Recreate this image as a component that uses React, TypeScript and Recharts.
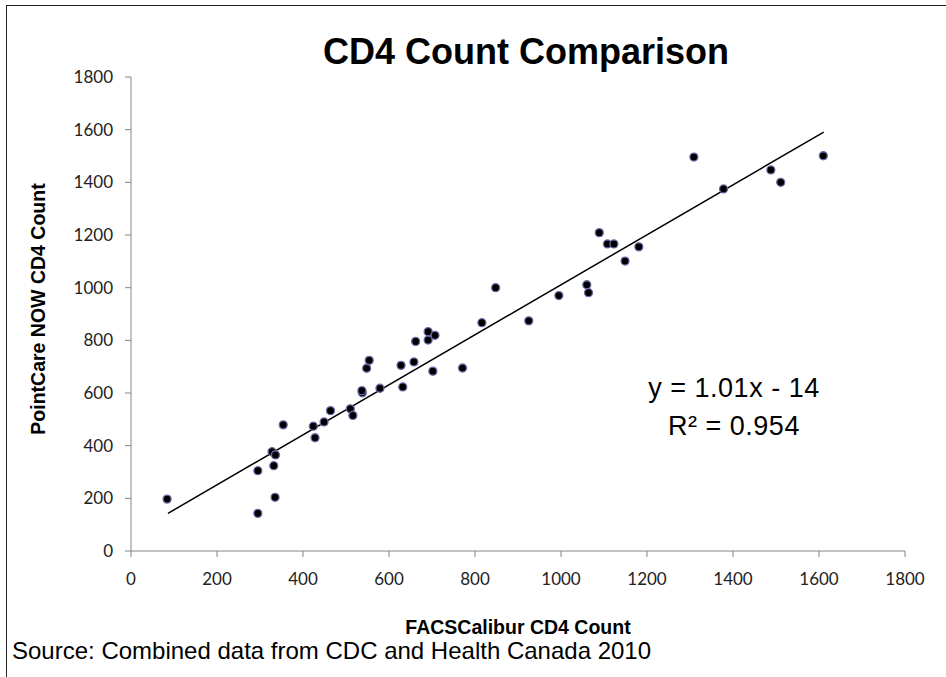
import React from 'react';
import { ScatterChart, Scatter, XAxis, YAxis, ReferenceLine } from 'recharts';

// FACSCalibur CD4 count (x) and PointCare NOW CD4 count (y)
const facsCalibur = [
  84, 295, 295, 328, 336, 332, 335, 354, 424, 428, 449, 464, 510, 516, 538, 537,
  548, 554, 579, 628, 632, 658, 662, 691, 691, 707, 702, 771, 816, 848, 925, 995,
  1060, 1064, 1149, 1089, 1108, 1123, 1181, 1309, 1378, 1488, 1511, 1610,
];
const pointCare = [
  197, 305, 143, 377, 365, 324, 204, 479, 474, 430, 490, 533, 540, 515, 601, 609,
  694, 724, 618, 705, 623, 718, 796, 833, 801, 819, 683, 695, 867, 1000, 874, 970,
  1011, 981, 1101, 1209, 1166, 1166, 1155, 1496, 1375, 1447, 1400, 1501,
];
const axisTicks = [0, 200, 400, 600, 800, 1000, 1200, 1400, 1600, 1800];
const trendX = [86, 1611];
const trendY = [143, 1591];

const titleText = 'CD4 Count Comparison';
const xTitle = 'FACSCalibur CD4 Count';
const yTitle = 'PointCare NOW CD4 Count';
const sourceText = 'Source: Combined data from CDC and Health Canada 2010';
const eqLine1 = 'y = 1.01x - 14';
const eqLine2 = 'R² = 0.954';

const points = facsCalibur.map((x, i) => ({ x, y: pointCare[i] }));

const Dot = (props: any) => {
  const { cx, cy } = props;
  if (cx == null || cy == null) return <g />;
  return <circle cx={cx} cy={cy} r={4} fill="#000" stroke="#6a6aa8" strokeWidth={1.3} />;
};

const tickStyle = { fill: '#222', fontSize: 17, fontFamily: 'Lato, "Open Sans", sans-serif' };
const arial = '"Liberation Sans", Arial, sans-serif';

export default function App() {
  return (
    <div
      style={{
        position: 'absolute',
        left: 0,
        top: 0,
        width: 946,
        height: 677,
        overflow: 'hidden',
        background: '#fff',
      }}
    >
      <div
        style={{
          position: 'absolute',
          left: 6,
          top: 5,
          width: 1000,
          height: 800,
          border: '1.5px solid #222',
          boxSizing: 'border-box',
        }}
      />
      <div style={{ position: 'absolute', left: 0, top: 0 }}>
        <ScatterChart
          width={946}
          height={677}
          margin={{ top: 77, right: 41, bottom: 86, left: 0 }}
        >
          <XAxis
            type="number"
            dataKey="x"
            domain={[0, 1800]}
            ticks={axisTicks}
            interval={0}
            tickSize={6}
            tickMargin={16}
            height={40}
            stroke="#868686"
            tick={tickStyle}
          />
          <YAxis
            type="number"
            dataKey="y"
            domain={[0, 1800]}
            ticks={axisTicks}
            interval={0}
            tickSize={6}
            tickMargin={12}
            width={131}
            stroke="#868686"
            tick={tickStyle}
          />
          <ReferenceLine
            segment={[
              { x: trendX[0], y: trendY[0] },
              { x: trendX[1], y: trendY[1] },
            ]}
            stroke="#000"
            strokeWidth={1.5}
            ifOverflow="visible"
          />
          <Scatter data={points} shape={Dot} isAnimationActive={false} />
        </ScatterChart>
      </div>
      <svg
        width={946}
        height={677}
        style={{ position: 'absolute', left: 0, top: 0, pointerEvents: 'none' }}
      >
        <text x={526} y={64} textAnchor="middle" fontFamily={arial} fontWeight="bold" fontSize={36} fill="#000">
          {titleText}
        </text>
        <text
          x={0}
          y={0}
          transform="translate(45,309) rotate(-90)"
          textAnchor="middle"
          fontFamily={arial}
          fontWeight="bold"
          fontSize={19.5}
          fill="#000"
        >
          {yTitle}
        </text>
        <text x={518} y={634} textAnchor="middle" fontFamily={arial} fontWeight="bold" fontSize={19.5} fill="#000">
          {xTitle}
        </text>
        <text x={12} y={659} fontFamily={arial} fontSize={24} fill="#000">
          {sourceText}
        </text>
        <text x={734} y={397} textAnchor="middle" fontFamily={arial} fontSize={27} letterSpacing={0.5} fill="#000">
          {eqLine1}
        </text>
        <text x={734} y={435} textAnchor="middle" fontFamily={arial} fontSize={27} letterSpacing={0.5} fill="#000">
          {eqLine2}
        </text>
      </svg>
    </div>
  );
}
